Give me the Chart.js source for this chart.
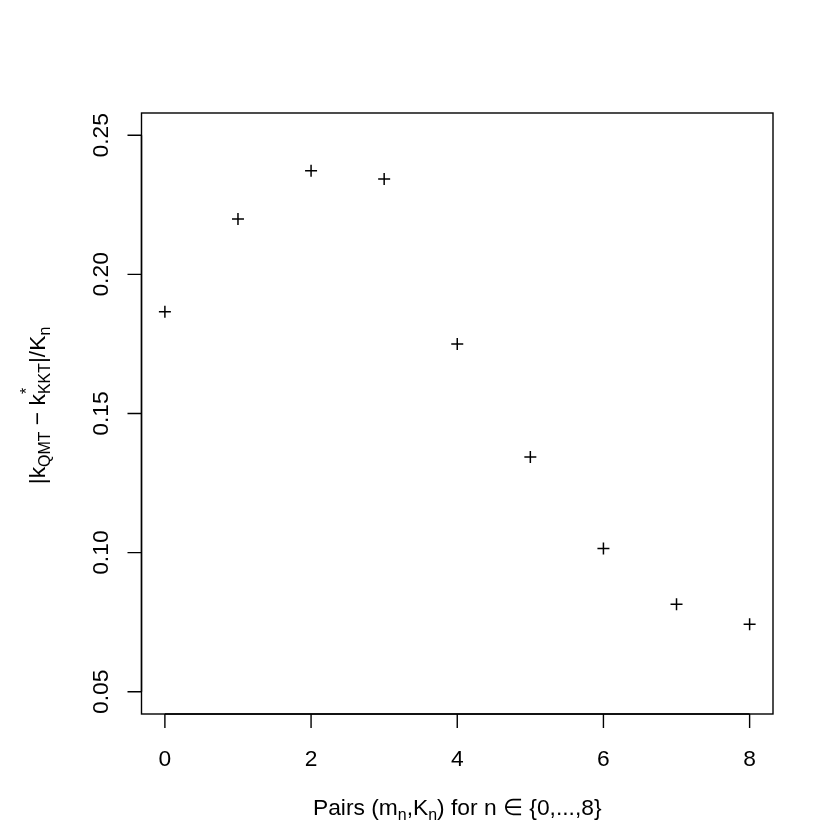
<!DOCTYPE html>
<html>
<head>
<meta charset="utf-8">
<script src="https://cdn.jsdelivr.net/npm/chart.js@4/dist/chart.umd.min.js"></script>
<style>
html,body{margin:0;padding:0;background:#fff;}
#wrap{width:830px;height:828px;position:relative;}
</style>
</head>
<body>
<div id="wrap"><canvas id="c" width="830" height="828"></canvas></div>
<script>
// Data
const pairIndex = [0, 1, 2, 3, 4, 5, 6, 7, 8];
const relativeGap = [0.1866, 0.2199, 0.2372, 0.2343, 0.1750, 0.1344, 0.1015, 0.0814, 0.0743];
const xTickValues = [0, 2, 4, 6, 8];
const yTickValues = [0.05, 0.10, 0.15, 0.20, 0.25];
const yTickLabels = ["0.05", "0.10", "0.15", "0.20", "0.25"];

const FONT = '"Liberation Sans", Arial, Helvetica, sans-serif';
const FS = 22.8;

// rich text: segments {t, sub, sup}
function segWidth(ctx, segs, fs) {
  let w = 0;
  for (const s of segs) {
    ctx.font = fs + 'px ' + FONT;
    let mw = s.t ? ctx.measureText(s.t).width : 0;
    ctx.font = (fs * 0.7) + 'px ' + FONT;
    let sw = s.sub ? ctx.measureText(s.sub).width : 0;
    let pw = s.sup ? ctx.measureText(s.sup).width : 0;
    w += mw + Math.max(sw, pw);
  }
  return w;
}
function drawRich(ctx, segs, cx, cy, rot, fs) {
  ctx.save();
  ctx.translate(cx, cy);
  ctx.rotate(rot);
  const total = segWidth(ctx, segs, fs);
  let x = -total / 2;
  ctx.fillStyle = '#000';
  ctx.textBaseline = 'alphabetic';
  ctx.textAlign = 'left';
  for (const s of segs) {
    ctx.font = fs + 'px ' + FONT;
    if (s.t) { ctx.fillText(s.t, x, 0); x += ctx.measureText(s.t).width; }
    ctx.font = (fs * 0.7) + 'px ' + FONT;
    let sw = 0, pw = 0;
    if (s.sub) { ctx.fillText(s.sub, x, fs * 0.22); sw = ctx.measureText(s.sub).width; }
    if (s.sup) { ctx.fillText(s.sup, x, -fs * 0.55); pw = ctx.measureText(s.sup).width; }
    x += Math.max(sw, pw);
  }
  ctx.restore();
}

const axesPlugin = {
  id: 'rAxes',
  afterDraw(chart) {
    const ctx = chart.ctx;
    const a = chart.chartArea;
    const xs = chart.scales.x, ys = chart.scales.y;
    ctx.save();
    ctx.strokeStyle = '#000';
    ctx.lineWidth = 1.4;
    // box
    ctx.strokeRect(a.left, a.top, a.right - a.left, a.bottom - a.top);
    const tl = 14;
    // x axis
    const x0 = xs.getPixelForValue(xTickValues[0]);
    const x1 = xs.getPixelForValue(xTickValues[xTickValues.length - 1]);
    ctx.beginPath();
    ctx.moveTo(x0, a.bottom); ctx.lineTo(x1, a.bottom);
    xTickValues.forEach(v => {
      const px = xs.getPixelForValue(v);
      ctx.moveTo(px, a.bottom); ctx.lineTo(px, a.bottom + tl);
    });
    // y axis
    const y0 = ys.getPixelForValue(yTickValues[0]);
    const y1 = ys.getPixelForValue(yTickValues[yTickValues.length - 1]);
    ctx.moveTo(a.left, y0); ctx.lineTo(a.left, y1);
    yTickValues.forEach(v => {
      const py = ys.getPixelForValue(v);
      ctx.moveTo(a.left, py); ctx.lineTo(a.left - tl, py);
    });
    ctx.stroke();
    // labels
    ctx.fillStyle = '#000';
    ctx.font = FS + 'px ' + FONT;
    ctx.textAlign = 'center';
    ctx.textBaseline = 'alphabetic';
    xTickValues.forEach(v => {
      ctx.fillText(String(v), xs.getPixelForValue(v), a.bottom + 51.5);
    });
    yTickValues.forEach((v, i) => {
      ctx.save();
      ctx.translate(a.left - 33.5, ys.getPixelForValue(v));
      ctx.rotate(-Math.PI / 2);
      ctx.fillText(yTickLabels[i], 0, 0);
      ctx.restore();
    });
    // titles
    const midX = (a.left + a.right) / 2;
    drawRich(ctx, [
      {t: 'Pairs (m', sub: 'n'}, {t: ',K', sub: 'n'}, {t: ') for n \u2208 {0,...,8}'}
    ], midX, a.bottom + 100.5, 0, FS);
    const midY = (a.top + a.bottom) / 2;
    drawRich(ctx, [
      {t: '|k', sub: 'QMT'}, {t: ' \u2212 k', sub: 'KKT', sup: '*'}, {t: '|/K', sub: 'n'}
    ], a.left - 96.5, midY - 8, -Math.PI / 2, FS);
    ctx.restore();
  }
};

new Chart(document.getElementById('c'), {
  type: 'scatter',
  data: {
    datasets: [{
      data: pairIndex.map((x, i) => ({x: x, y: relativeGap[i]})),
      pointStyle: 'cross',
      pointRadius: 6,
      pointHoverRadius: 6,
      borderColor: '#000',
      backgroundColor: '#000',
      borderWidth: 1.5
    }]
  },
  options: {
    responsive: false,
    animation: false,
    events: [],
    layout: { padding: { left: 141.5, right: 57, top: 113, bottom: 114 } },
    plugins: { legend: { display: false }, tooltip: { enabled: false } },
    scales: {
      x: { type: 'linear', min: -0.32, max: 8.32, display: false },
      y: { type: 'linear', min: 0.042, max: 0.258, display: false }
    }
  },
  plugins: [axesPlugin]
});
</script>
</body>
</html>
